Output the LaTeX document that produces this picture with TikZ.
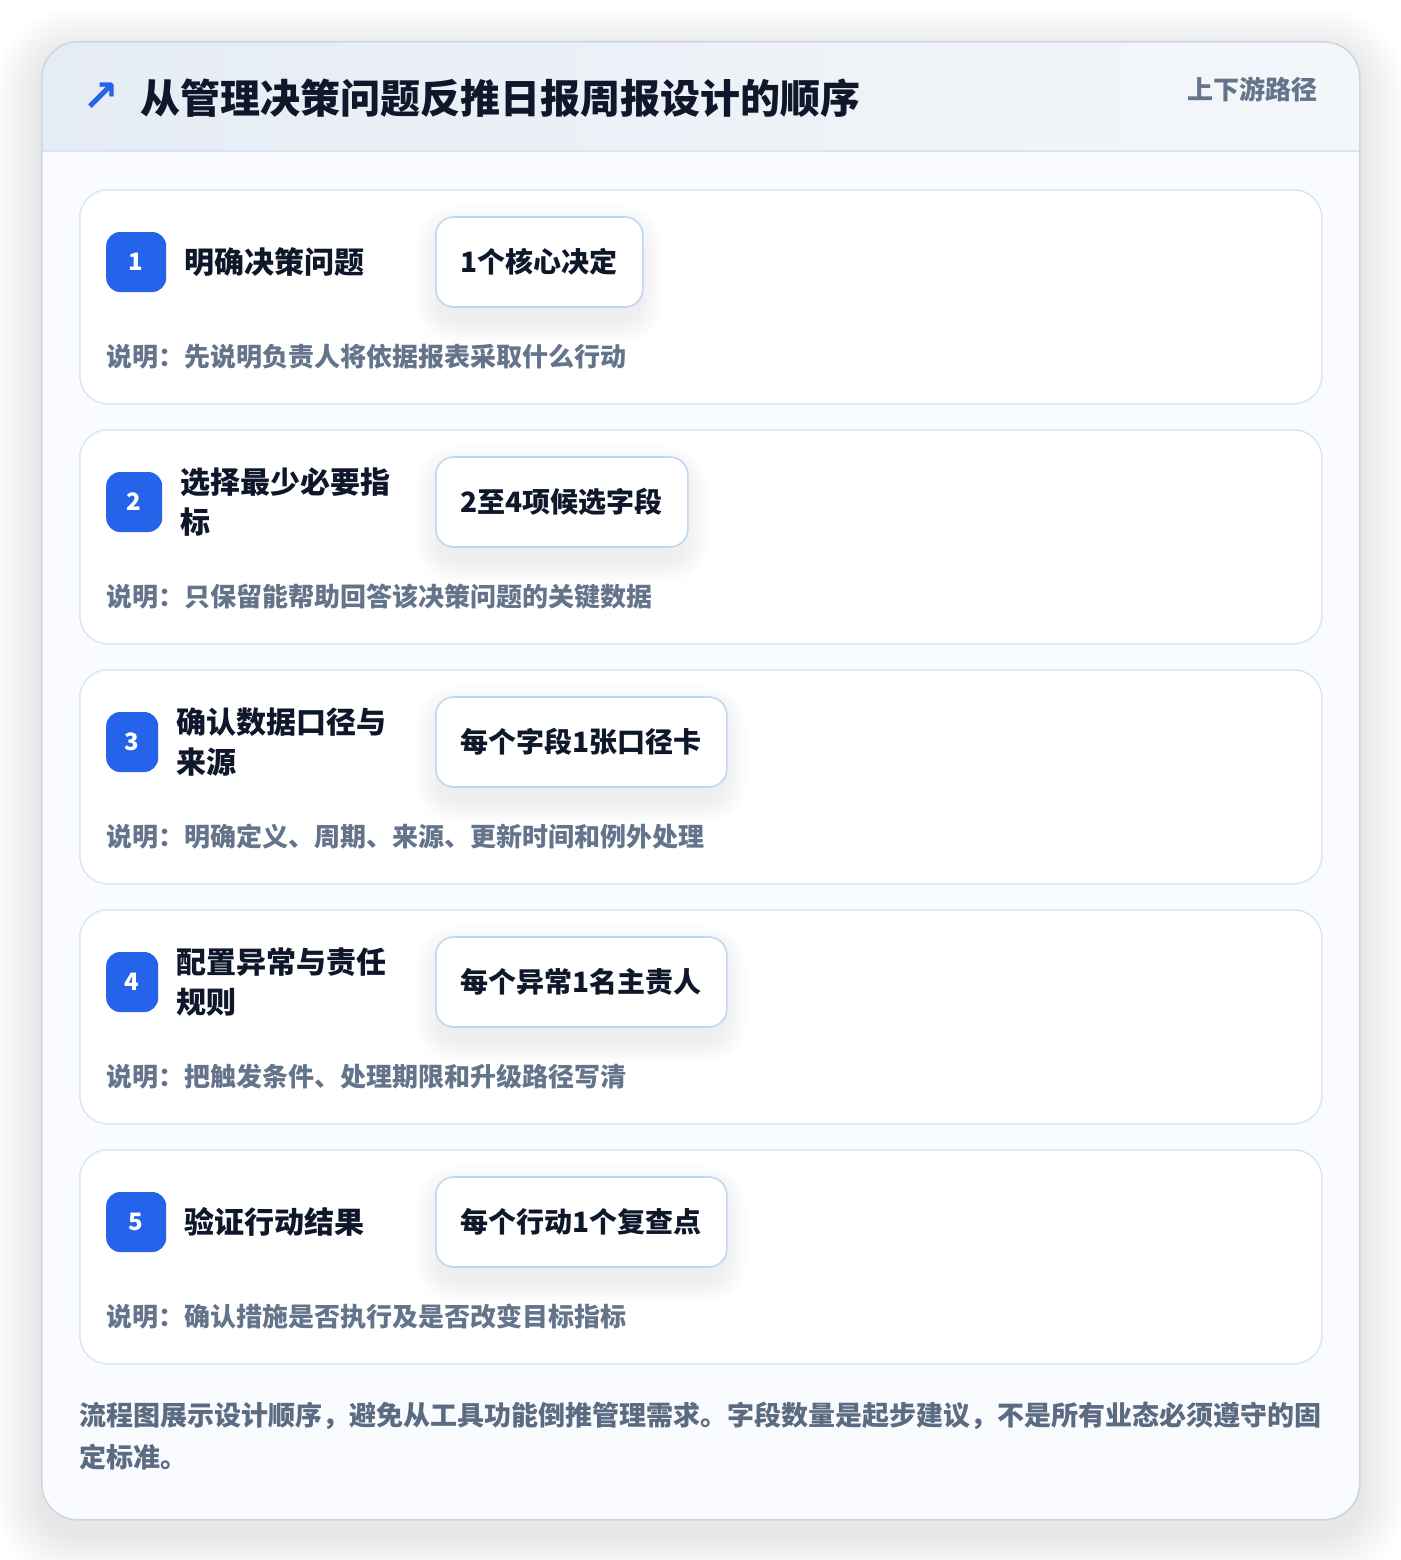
\documentclass[tikz,border=0pt]{standalone}
\usepackage{fontspec}
\setmainfont{Noto Sans CJK SC}
\newfontfamily\dejavu{DejaVu Sans}
\usetikzlibrary{calc}
\definecolor{blueA}{HTML}{2563EB}
\definecolor{ink}{HTML}{0F172A}
\definecolor{muted}{HTML}{64748B}
\definecolor{footgray}{HTML}{5B6B82}
\definecolor{cardline}{HTML}{DCE7F5}
\definecolor{pillline}{HTML}{C0D6F2}
\definecolor{outerline}{HTML}{CDD6E2}
\definecolor{hdrL}{HTML}{E6ECF4}
\definecolor{hdrR}{HTML}{F4F7FA}
\definecolor{hdrline}{HTML}{D9E5F4}
\definecolor{bodybg}{HTML}{F9FBFE}
\pgfdeclarelayer{pgshadow}
\pgfdeclarelayer{cards}
\pgfdeclarelayer{pillsh}
\pgfsetlayers{pgshadow,cards,pillsh,main}
\tikzset{
  cardbox/.style={draw=cardline, line width=1.6pt, fill=white, rounded corners=28pt,
    minimum width=1242pt, minimum height=214pt, anchor=north west, inner sep=0pt},
  badge/.style={fill=blueA, rounded corners=14pt, minimum height=60pt, text=white,
    font=\fontsize{24}{24}\selectfont\bfseries, inner sep=0pt, anchor=west},
  steptitle/.style={anchor=west, inner sep=0pt, align=left, text=ink,
    font=\fontsize{30}{40}\selectfont\bfseries},
  pill/.style={draw=pillline, line width=1.6pt, fill=white, rounded corners=18pt,
    minimum height=90pt, inner xsep=25pt, inner ysep=0pt, anchor=west, text=ink,
    font=\fontsize{28}{28}\selectfont\bfseries},
  desc/.style={anchor=west, inner sep=0pt, text=muted,
    font=\fontsize{26}{26}\selectfont\bfseries},
}
\newcommand\stepcard[5]{%
  \pgfmathsetmacro\ctop{189+240*(#1-1)}%
  \begin{pgfonlayer}{cards}
    \node[cardbox] (card#1) at (79,\ctop) {};
  \end{pgfonlayer}
  \node[badge, minimum width=#2pt] (badge#1) at (106,\ctop+73) {#1};
  \node[steptitle] (title#1) at ($(badge#1.east)+(18,0)$) {#3};
  \node[pill] (pill#1) at (435,\ctop+73) {#4};
  \begin{pgfonlayer}{pillsh}
    \foreach \k in {1,...,16}{
      \fill[black, opacity=0.0042, rounded corners=18pt+1.5*\k pt]
        ($(pill#1.north west)+(-1.5*\k+4,-1.5*\k+12)$) rectangle
        ($(pill#1.south east)+(1.5*\k-4,1.5*\k+12)$);
    }
  \end{pgfonlayer}
  \node[desc] (desc#1) at (106,\ctop+168) {#5};
}
\begin{document}
\begin{tikzpicture}[x=1pt,y=-1pt]
\useasboundingbox (0,0) rectangle (1400,1560);
\begin{pgfonlayer}{pgshadow}
  \fill[white] (0,0) rectangle (1400,1560);
  \foreach \i in {1,...,24}{
    \fill[black, opacity=0.0055, rounded corners=36pt+2*\i pt]
      (41-2*\i,41-2*\i+14) rectangle (1359+2*\i,1519+2*\i+14);
  }
  \begin{scope}
    \clip[rounded corners=36pt] (41,41) rectangle (1359,1519);
    \fill[bodybg] (41,41) rectangle (1359,1519);
    \shade[left color=hdrL, right color=hdrR] (41,41) rectangle (1359,151);
    \draw[hdrline, line width=1.6pt] (41,151) -- (1359,151);
  \end{scope}
\end{pgfonlayer}
\node[draw=outerline, line width=1.6pt, rounded corners=36pt, minimum width=1318pt,
  minimum height=1478pt, anchor=north west, inner sep=0pt] (outer) at (41,41) {};
% header
\node[anchor=center, inner sep=0pt, text=blueA, font=\dejavu\fontsize{44}{44}\selectfont\bfseries] (arrow) at (101,97) {↗};
\node[anchor=west, inner sep=0pt, text=ink, font=\fontsize{40}{40}\selectfont\bfseries] (title) at (140,98) {从管理决策问题反推日报周报设计的顺序};
\node[anchor=east, inner sep=0pt, text=muted, font=\fontsize{26}{26}\selectfont\bfseries] (tag) at (1318,89) {上下游路径};
% steps
\stepcard{1}{60}{明确决策问题}{1个核心决定}{说明：先说明负责人将依据报表采取什么行动}
\stepcard{2}{56}{选择最少必要指\\标}{2至4项候选字段}{说明：只保留能帮助回答该决策问题的关键数据}
\stepcard{3}{52}{确认数据口径与\\来源}{每个字段1张口径卡}{说明：明确定义、周期、来源、更新时间和例外处理}
\stepcard{4}{52}{配置异常与责任\\规则}{每个异常1名主责人}{说明：把触发条件、处理期限和升级路径写清}
\stepcard{5}{60}{验证行动结果}{每个行动1个复查点}{说明：确认措施是否执行及是否改变目标指标}
% footer
\node[anchor=west, inner sep=0pt, align=left, text=footgray, font=\fontsize{27}{42}\selectfont\bfseries] (foot) at (79,1436) {流程图展示设计顺序，避免从工具功能倒推管理需求。字段数量是起步建议，不是所有业态必须遵守的固\\定标准。};
\end{tikzpicture}
\end{document}
